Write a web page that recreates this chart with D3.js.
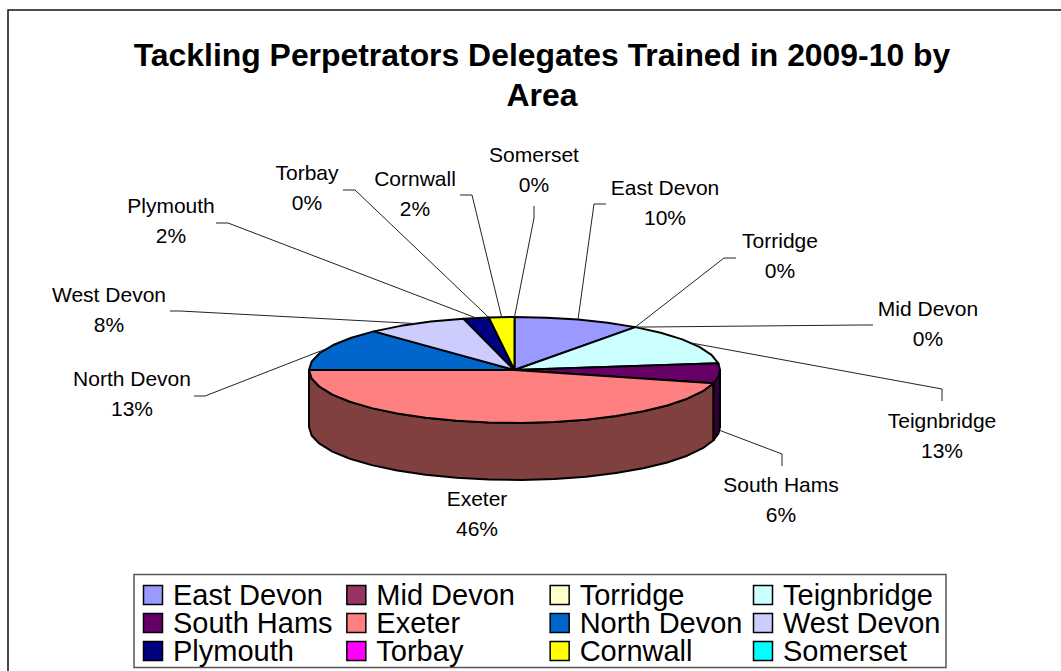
<!DOCTYPE html>
<html>
<head>
<meta charset="utf-8">
<script src="https://cdn.jsdelivr.net/npm/d3@7"></script>
<style>
  html, body { margin: 0; padding: 0; background: #fff; }
  svg { display: block; }
  text { font-family: "Liberation Sans", Arial, sans-serif; fill: #000; }
</style>
</head>
<body>
<script>
const areas = ["East Devon", "Mid Devon", "Torridge", "Teignbridge", "South Hams", "Exeter",
  "North Devon", "West Devon", "Plymouth", "Torbay", "Cornwall", "Somerset"];
const shares = [10, 0, 0, 13, 6, 46, 13, 8, 2, 0, 2, 0];
const colors = ["#9999FF", "#993366", "#FFFFCC", "#CCFFFF", "#660066", "#FF8080",
  "#0066CC", "#CCCCFF", "#000080", "#FF00FF", "#FFFF00", "#00FFFF"];
const titleLines = ["Tackling Perpetrators Delegates Trained in 2009-10 by", "Area"];

// where each data label sits: label centre, first baseline, leader knee, leader end
const labelLayout = {
  "East Devon": { x: 665, y: 194.5, knee: [594, 204], end: [606, 204] },
  "Mid Devon": { x: 928, y: 315.5, knee: [861, 325], end: [873, 325] },
  "Torridge": { x: 780, y: 247.5, knee: [724, 258], end: [736, 258] },
  "Teignbridge": { x: 942, y: 427.5, knee: [942, 389], end: [942, 401] },
  "South Hams": { x: 781, y: 491.5, knee: [782, 454], end: [782, 466] },
  "Exeter": { x: 477, y: 505.5 },
  "North Devon": { x: 132, y: 385.5, knee: [205, 396], end: [194, 396] },
  "West Devon": { x: 109, y: 301.5, knee: [180, 311], end: [170, 311] },
  "Plymouth": { x: 171, y: 212.5, knee: [228, 223], end: [216, 223] },
  "Torbay": { x: 307, y: 179.5, knee: [355, 190], end: [343, 190] },
  "Cornwall": { x: 415, y: 185.5, knee: [472, 195], end: [460, 195] },
  "Somerset": { x: 534, y: 161.5, knee: [534, 218], end: [534, 206] }
};

const width = 1061, height = 671;
const cx = 514.5, cy = 370, rx = 205.5, ry = 53, depth = 57;

const svg = d3.select("body").append("svg")
  .attr("width", width)
  .attr("height", height);

// chart frame runs off the picture on the right and bottom
svg.append("rect")
  .attr("x", 8).attr("y", 10)
  .attr("width", 1100).attr("height", 800)
  .attr("fill", "#fff")
  .attr("stroke", "#111")
  .attr("stroke-width", 1.5);

svg.selectAll(".title")
  .data(titleLines)
  .enter().append("text")
  .attr("class", "title")
  .attr("x", 542)
  .attr("y", (d, i) => 66 + i * 40)
  .attr("text-anchor", "middle")
  .attr("font-size", 31.9)
  .attr("font-weight", "bold")
  .text(d => d);

const slices = d3.pie().sort(null).value(d => d.share)(
  areas.map((name, i) => ({ name: name, share: shares[i], color: colors[i] })));

// angle is clockwise from 12 o'clock, flattened onto the tilted ellipse
const px = a => cx + rx * Math.sin(a);
const py = a => cy - ry * Math.cos(a);

// coarse steps on purpose, the original rim is visibly faceted
function arcPoints(a0, a1) {
  const n = Math.max(1, Math.ceil((a1 - a0) / 0.17));
  return d3.range(n + 1).map(i => a0 + (a1 - a0) * i / n);
}

const line = d3.line();

// walls only show on the front half, angles between 90 and 270 degrees
function wallPath(d) {
  const a0 = Math.max(d.startAngle, Math.PI / 2);
  const a1 = Math.min(d.endAngle, Math.PI * 1.5);
  if (a1 <= a0) return null;
  const top = arcPoints(a0, a1).map(a => [px(a), py(a)]);
  const bottom = arcPoints(a0, a1).reverse().map(a => [px(a), py(a) + depth]);
  return line(top.concat(bottom)) + "Z";
}

function topPath(d) {
  const rim = arcPoints(d.startAngle, d.endAngle).map(a => [px(a), py(a)]);
  return line([[cx, cy]].concat(rim)) + "Z";
}

// side walls are the slice colour at half brightness
function shade(color) {
  const c = d3.rgb(color);
  return d3.rgb(c.r / 2, c.g / 2, c.b / 2).formatHex();
}

const visible = slices.filter(d => d.value > 0);

svg.selectAll(".wall")
  .data(visible.filter(d => wallPath(d)).reverse())
  .enter().append("path")
  .attr("class", "wall")
  .attr("d", wallPath)
  .attr("fill", d => shade(d.data.color))
  .attr("stroke", "#000")
  .attr("stroke-width", 2)
  .attr("stroke-linejoin", "round");

svg.selectAll(".top")
  .data(visible)
  .enter().append("path")
  .attr("class", "top")
  .attr("d", topPath)
  .attr("fill", d => d.data.color)
  .attr("stroke", "#000")
  .attr("stroke-width", 2)
  .attr("stroke-linejoin", "round");

// leader lines start from the middle of each slice's rim
svg.selectAll(".leader")
  .data(slices.filter(d => labelLayout[d.data.name].knee))
  .enter().append("path")
  .attr("class", "leader")
  .attr("d", d => {
    const mid = (d.startAngle + d.endAngle) / 2;
    const front = mid > Math.PI / 2 && mid < Math.PI * 1.5;
    const l = labelLayout[d.data.name];
    return line([[px(mid), py(mid) + (front ? depth : 0)], l.knee, l.end]);
  })
  .attr("fill", "none")
  .attr("stroke", "#222")
  .attr("stroke-width", 1);

const labels = svg.selectAll(".label")
  .data(slices)
  .enter().append("text")
  .attr("class", "label")
  .attr("text-anchor", "middle")
  .attr("font-size", 21);

labels.append("tspan")
  .attr("x", d => labelLayout[d.data.name].x)
  .attr("y", d => labelLayout[d.data.name].y)
  .text(d => d.data.name);

labels.append("tspan")
  .attr("x", d => labelLayout[d.data.name].x)
  .attr("y", d => labelLayout[d.data.name].y + 30)
  .text(d => d.data.share + "%");

// legend
svg.append("rect")
  .attr("x", 134).attr("y", 574.5)
  .attr("width", 812).attr("height", 93)
  .attr("fill", "#fff")
  .attr("stroke", "#555")
  .attr("stroke-width", 1.5);

const legendX = d3.scalePoint().domain([0, 1, 2, 3]).range([143, 753]);
const legendY = d3.scalePoint().domain([0, 1, 2]).range([585, 641]);

const legendItem = svg.selectAll(".legend-item")
  .data(areas)
  .enter().append("g")
  .attr("class", "legend-item")
  .attr("transform", (d, i) => "translate(" + legendX(i % 4) + "," + legendY(Math.floor(i / 4)) + ")");

legendItem.append("rect")
  .attr("x", 0.5).attr("y", 0.5)
  .attr("width", 19).attr("height", 19)
  .attr("fill", (d, i) => colors[i])
  .attr("stroke", "#000")
  .attr("stroke-width", 1.5);

legendItem.append("text")
  .attr("x", 30)
  .attr("y", 20)
  .attr("font-size", 29)
  .text(d => d);
</script>
</body>
</html>
